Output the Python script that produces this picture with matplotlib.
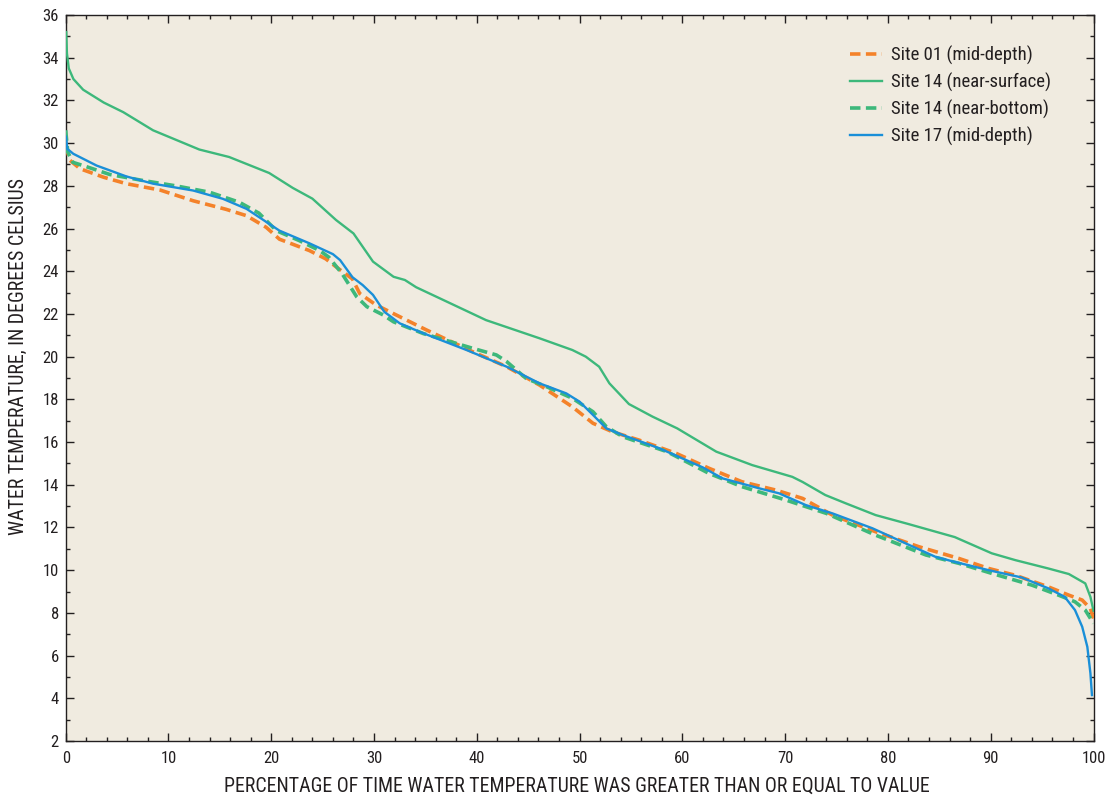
import numpy as np
import matplotlib
matplotlib.use("Agg")
import matplotlib.pyplot as plt
from matplotlib.ticker import MultipleLocator

plt.rcParams['font.family'] = ['Roboto Condensed', 'Archivo Narrow', 'DejaVu Sans']

# Site 01 (mid-depth)
x_s01 = [0, 0.4, 1.4, 3.7, 5.9, 9.2, 12.4, 15.6, 17.6, 19.5, 20.8, 23.7, 25.3, 26.6,
         27.9, 28.6, 30.2, 32.5, 35.1, 39.6, 42.9, 46.1, 49.3, 51.3, 53.2, 55.8, 59.4,
         62.6, 65.8, 69.1, 71.7, 74.6, 78.8, 83.0, 86.9, 89.8, 92.4, 95.6, 97.6, 98.9,
         99.7, 100]
y_s01 = [29.9, 29.2, 28.8, 28.4, 28.1, 27.8, 27.3, 26.9, 26.6, 26.06, 25.5, 24.97, 24.58, 24.1,
         23.64, 22.96, 22.42, 21.87, 21.25, 20.23, 19.53, 18.67, 17.65, 16.88, 16.48, 16.09, 15.47,
         14.77, 14.14, 13.75, 13.36, 12.58, 11.8, 11.1, 10.55, 10.08, 9.76, 9.22, 8.83, 8.6,
         8.2, 7.74]

# Site 14 (near-surface)
x_s14s = [0.05, 0.12, 0.3, 0.75, 1.7, 3.7, 5.6, 8.5, 13.0, 15.9, 19.8, 22.1, 24.0, 26.3, 28.0,
          29.9, 31.9, 33.0, 34.1, 36.4, 40.9, 46.1, 49.3, 50.6, 51.9, 52.9, 54.8, 57.1,
          59.5, 63.3, 66.8, 70.7, 71.7, 73.9, 75.9, 78.8, 82.0, 86.5, 90.1, 92.4, 95.6,
          97.6, 99.2, 99.7, 100]
y_s14s = [35.2, 34.2, 33.5, 33.0, 32.5, 31.9, 31.45, 30.6, 29.7, 29.35, 28.6, 27.9, 27.4, 26.4, 25.77,
          24.45, 23.74, 23.59, 23.25, 22.73, 21.71, 20.86, 20.31, 20.0, 19.53, 18.75, 17.78, 17.19,
          16.64, 15.55, 14.92, 14.37, 14.13, 13.52, 13.13, 12.58, 12.16, 11.55, 10.79, 10.47, 10.08,
          9.82, 9.38, 8.75, 8.1]

# Site 14 (near-bottom)
x_s14b = [0, 0.2, 0.7, 2.0, 4.3, 7.5, 10.7, 14.0, 16.9, 18.8, 20.5, 22.7, 24.7, 25.6,
          26.9, 28.3, 29.3, 30.9, 31.9, 34.8, 39.6, 41.9, 42.9, 44.8, 46.8, 49.3, 51.3,
          52.6, 54.2, 58.5, 62.6, 65.8, 70.1, 74.0, 78.8, 83.7, 86.9, 90.1, 94.0, 96.6,
          98.2, 99.2, 100]
y_s14b = [30.6, 29.58, 29.1, 28.9, 28.53, 28.25, 28.0, 27.7, 27.23, 26.72, 25.9, 25.44, 24.97, 24.66,
          23.88, 22.81, 22.34, 21.95, 21.63, 21.08, 20.39, 20.08, 19.77, 18.98, 18.59, 18.05, 17.42,
          16.72, 16.25, 15.55, 14.53, 13.91, 13.28, 12.66, 11.64, 10.71, 10.32, 9.85, 9.3, 8.83,
          8.52, 8.13, 7.51]

# Site 17 (mid-depth)
x_s17 = [0.03, 0.16, 0.74, 3.0, 5.9, 8.5, 12.4, 15.3, 17.6, 20.8, 23.7, 26.0, 26.7, 27.9,
         28.9, 29.9, 31.0, 32.5, 34.4, 39.0, 42.9, 46.1, 48.7, 50.0, 51.3, 52.6, 54.2,
         57.8, 62.0, 63.9, 67.5, 69.4, 72.0, 74.6, 78.5, 81.7, 84.6, 86.4, 89.8, 93.0,
         95.6, 97.2, 98.2, 98.9, 99.4, 99.7, 99.85]
y_s17 = [30.3, 29.73, 29.5, 28.95, 28.44, 28.1, 27.78, 27.39, 26.92, 25.9, 25.31, 24.8, 24.52, 23.72,
         23.35, 22.89, 22.1, 21.56, 21.17, 20.31, 19.53, 18.75, 18.28, 17.89, 17.27, 16.64, 16.33,
         15.7, 14.81, 14.3, 13.83, 13.6, 13.05, 12.66, 11.96, 11.26, 10.63, 10.4, 10.0, 9.66,
         9.15, 8.75, 8.13, 7.35, 6.41, 5.17, 4.15]

series = [
    (x_s01, y_s01, 'Site 01 (mid-depth)', '#F4822A', 'dashed'),
    (x_s14s, y_s14s, 'Site 14 (near-surface)', '#3DB87B', 'solid'),
    (x_s14b, y_s14b, 'Site 14 (near-bottom)', '#3DB87B', 'dashed'),
    (x_s17, y_s17, 'Site 17 (mid-depth)', '#1A8FD8', 'solid'),
]

ink = '#231F20'
fig = plt.figure(figsize=(11.07, 7.98), dpi=100)
ax = fig.add_axes([65.7 / 1107, 1 - 741 / 798, (1093.5 - 65.7) / 1107, (741 - 15) / 798])
ax.set_facecolor('#F0EBE0')

for xs, ys, lab, col, style in series:
    if style == 'dashed':
        ax.plot(xs, ys, color=col, lw=2.6, dashes=(2.9, 1.5), label=lab,
                dash_capstyle='butt', solid_joinstyle='round', zorder=3)
    else:
        ax.plot(xs, ys, color=col, lw=1.7, label=lab, solid_joinstyle='round', zorder=3)

ax.set_xlim(0, 100)
ax.set_ylim(2, 36)
ax.xaxis.set_major_locator(MultipleLocator(10))
ax.xaxis.set_minor_locator(MultipleLocator(2))
ax.yaxis.set_major_locator(MultipleLocator(2))
ax.yaxis.set_minor_locator(MultipleLocator(1))
ax.tick_params(which='both', direction='in', top=True, right=True, width=1.0, color=ink)
ax.tick_params(which='major', length=5.5)
ax.tick_params(which='minor', length=3)
ax.tick_params(axis='x', labelsize=12, pad=7, labelcolor=ink)
ax.tick_params(axis='y', labelsize=12, pad=5, labelcolor=ink)
for sp in ax.spines.values():
    sp.set_linewidth(1.0)
    sp.set_color(ink)

ax.set_xlabel('PERCENTAGE OF TIME WATER TEMPERATURE WAS GREATER THAN OR EQUAL TO VALUE',
              fontsize=14.3, color=ink, va='center')
ax.set_ylabel('WATER TEMPERATURE, IN DEGREES CELSIUS', fontsize=14.3, color=ink, va='center')
ax.xaxis.set_label_coords(0.497, -0.063)
ax.yaxis.set_label_coords(-0.046, 0.529)

leg = ax.legend(loc='upper left', bbox_to_anchor=(0.763, 0.958), frameon=False,
                fontsize=13.5, handlelength=1.7, handletextpad=0.5, labelspacing=0.42,
                borderpad=0, borderaxespad=0)
for t in leg.get_texts():
    t.set_color(ink)

fig.savefig('out.png', dpi=100, facecolor='white')
